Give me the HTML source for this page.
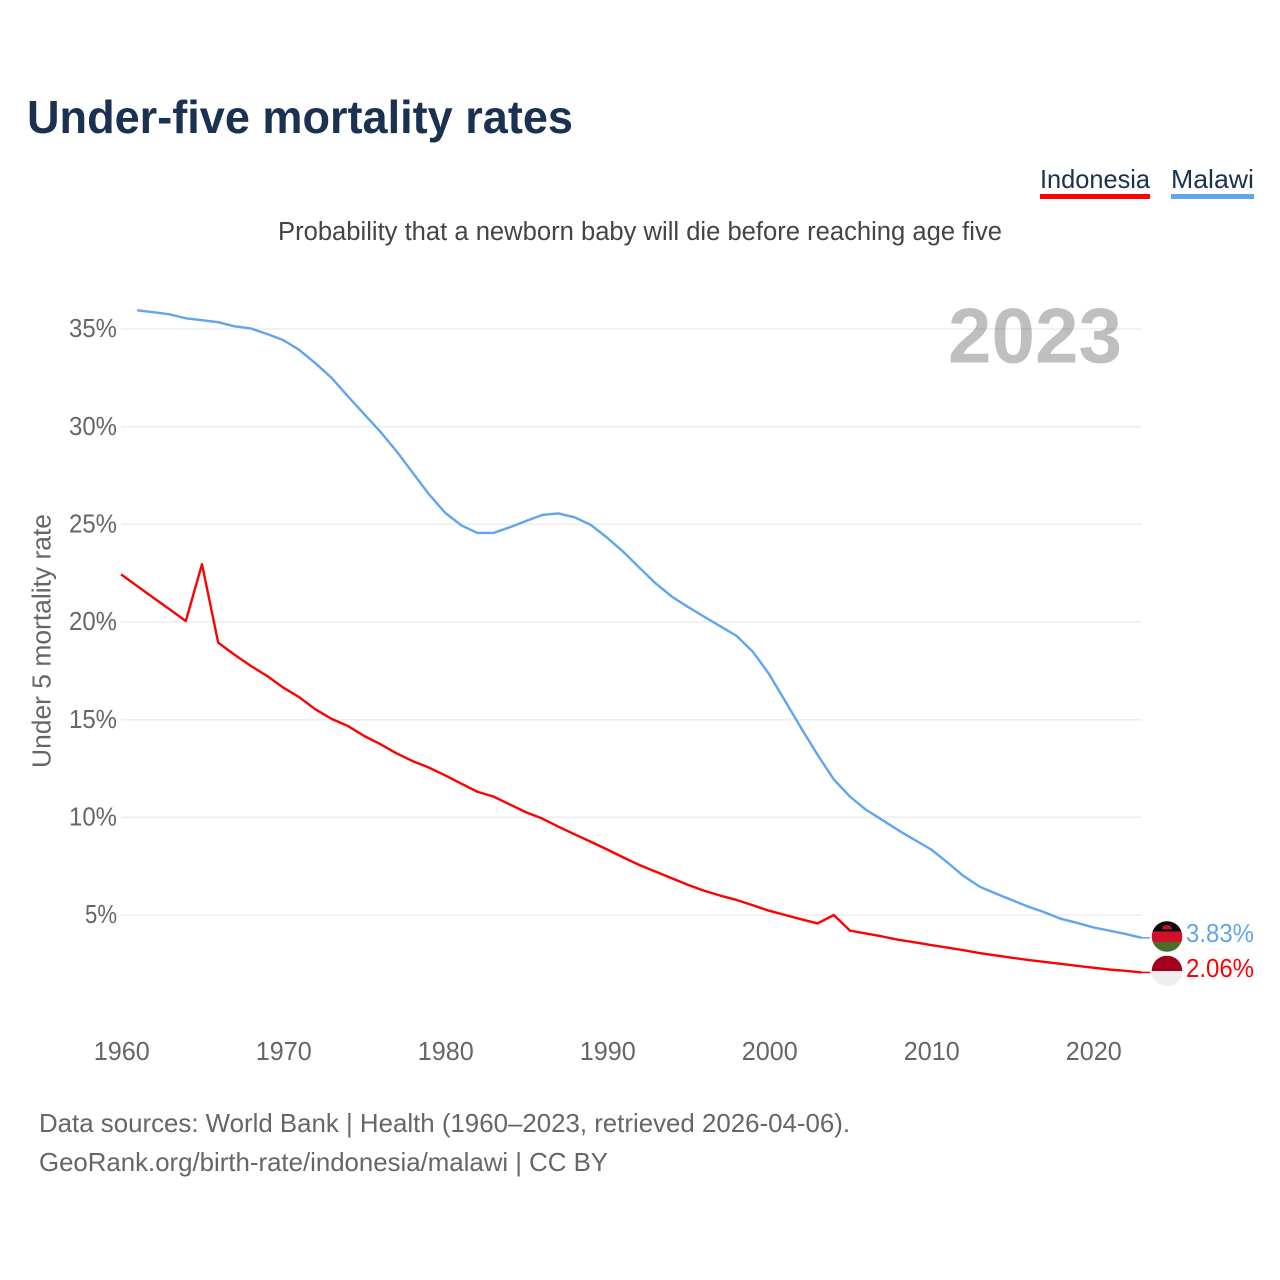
<!DOCTYPE html>
<html lang="en">
<head>
<meta charset="utf-8">
<title>Under-five mortality rates</title>
<style>
html,body{margin:0;padding:0;background:#fff;width:1280px;height:1280px;overflow:hidden}
svg{display:block}
text{font-family:"Liberation Sans",sans-serif}
</style>
</head>
<body>
<svg id="chart" xmlns="http://www.w3.org/2000/svg" width="1280" height="1280" viewBox="0 0 1280 1280">
  <rect width="1280" height="1280" fill="#ffffff"/>
  <text x="27" y="133" font-size="46" font-weight="700" fill="#1a3152" textLength="546" lengthAdjust="spacingAndGlyphs">Under-five mortality rates</text>
  <text x="278" y="240" font-size="25.5" fill="#444444" textLength="724" lengthAdjust="spacingAndGlyphs">Probability that a newborn baby will die before reaching age five</text>

  <g>
    <text x="1040" y="188" font-size="26" fill="#1a3152" textLength="110" lengthAdjust="spacingAndGlyphs">Indonesia</text>
    <rect x="1040" y="194" width="110" height="5" fill="#ff0000"/>
  </g>
  <g>
    <text x="1171" y="188" font-size="26" fill="#1a3152" textLength="83" lengthAdjust="spacingAndGlyphs">Malawi</text>
    <rect x="1171" y="194" width="83" height="5" fill="#60a5ee"/>
  </g>

  <g id="grid"></g>
  <g id="yticks"></g>
  <g id="xticks"></g>

  <text transform="translate(50.5,768) rotate(-90)" x="0" y="0" font-size="25.5" fill="#666666" textLength="254" lengthAdjust="spacingAndGlyphs">Under 5 mortality rate</text>
  <text x="948" y="362.5" font-size="78" font-weight="700" fill="#000000" fill-opacity="0.25" textLength="174" lengthAdjust="spacingAndGlyphs">2023</text>

  <polyline id="line-malawi" fill="none" stroke="#60a5ee" stroke-width="2.4" stroke-linejoin="round"/>
  <polyline id="line-indonesia" fill="none" stroke="#ff0000" stroke-width="2.4" stroke-linejoin="round"/>

  <defs>
    <clipPath id="clip-mw"><circle cx="1167" cy="936.5" r="15.3"/></clipPath>
    <clipPath id="clip-id"><circle cx="1167" cy="971" r="15.3"/></clipPath>
  </defs>
  <line id="conn-malawi" stroke="#60a5ee" stroke-width="1.5"/>
  <line id="conn-indonesia" stroke="#ff0000" stroke-width="1.5"/>
  <g clip-path="url(#clip-mw)">
    <rect x="1151" y="921" width="32" height="10.5" fill="#0d0d0d"/>
    <rect x="1151" y="931.5" width="32" height="10.5" fill="#ce1126"/>
    <rect x="1151" y="942" width="32" height="11" fill="#4a6f2a"/>
    <path d="M1162 929.2a5 4.2 0 0 1 10 0z" fill="#ce1126"/>
  </g>
  <g clip-path="url(#clip-id)">
    <rect x="1151" y="955" width="32" height="16" fill="#a3001e"/>
    <rect x="1151" y="971" width="32" height="16" fill="#eeeeee"/>
  </g>
  <text id="value-malawi" x="1186" y="942" font-size="26" fill="#60a5ee" textLength="68" lengthAdjust="spacingAndGlyphs"></text>
  <text id="value-indonesia" x="1186" y="977" font-size="26" fill="#ff0000" textLength="68" lengthAdjust="spacingAndGlyphs"></text>

  <text x="39" y="1132" font-size="26" fill="#666666" textLength="811" lengthAdjust="spacingAndGlyphs">Data sources: World Bank | Health (1960–2023, retrieved 2026-04-06).</text>
  <text x="39" y="1171" font-size="26" fill="#666666" textLength="569" lengthAdjust="spacingAndGlyphs">GeoRank.org/birth-rate/indonesia/malawi | CC BY</text>
</svg>
<script>
const yearsIndonesiaStart = 1960;
const yearsMalawiStart = 1961;
const xTickYears = [1960, 1970, 1980, 1990, 2000, 2010, 2020];
const yTickValues = [5, 10, 15, 20, 25, 30, 35];
const malawiValues = [
  35.96, 35.86, 35.75, 35.55, 35.45, 35.35, 35.14, 35.03, 34.75,
  34.44, 33.93, 33.25, 32.5, 31.56, 30.65, 29.75, 28.75, 27.65, 26.55,
  25.6, 24.95, 24.56, 24.56, 24.85, 25.17, 25.48, 25.56, 25.36, 24.97,
  24.32, 23.6, 22.78, 21.98, 21.3, 20.77, 20.27, 19.78, 19.29, 18.48,
  17.34, 15.95, 14.55, 13.2, 11.94, 11.06, 10.38, 9.86, 9.33, 8.84,
  8.36, 7.7, 7.0, 6.45, 6.1, 5.76, 5.43, 5.14, 4.81, 4.6,
  4.37, 4.2, 4.03, 3.83
];
const indonesiaValues = [
  22.44, 21.84, 21.24, 20.65, 20.05, 22.96, 18.94, 18.33, 17.76, 17.25,
  16.65, 16.15, 15.53, 15.04, 14.68, 14.17, 13.75, 13.28, 12.88, 12.55,
  12.15, 11.73, 11.31, 11.06, 10.66, 10.26, 9.94, 9.52, 9.13, 8.75,
  8.36, 7.95, 7.56, 7.22, 6.88, 6.54, 6.24, 5.99, 5.77, 5.5,
  5.22, 5.0, 4.78, 4.57, 5.0, 4.2, 4.05, 3.9, 3.73, 3.6,
  3.46, 3.33, 3.2, 3.05, 2.93, 2.81, 2.7, 2.6, 2.5, 2.4,
  2.3, 2.21, 2.14, 2.06
];
const malawiLatestLabel = "3.83%";
const indonesiaLatestLabel = "2.06%";

const NS = "http://www.w3.org/2000/svg";
function xScale(year) { return 121 + (year - 1960) * 16.2; }
function yScale(v) { return 915 - (v - 5) * 19.533; }

const gridLayer = document.getElementById("grid");
const yLayer = document.getElementById("yticks");
yTickValues.forEach(function (v) {
  const ln = document.createElementNS(NS, "line");
  
  
  ln.setAttribute("x1", 121);
  ln.setAttribute("x2", 1141.6);
  ln.setAttribute("y1", yScale(v));
  ln.setAttribute("y2", yScale(v));
  ln.setAttribute("stroke", "#eeeeee");
  ln.setAttribute("stroke-width", "1.6");
  gridLayer.appendChild(ln);

  const label = v + "%";
  const t = document.createElementNS(NS, "text");
  
  
  t.setAttribute("x", 117);
  t.setAttribute("y", yScale(v) + 8.2);
  t.setAttribute("text-anchor", "end");
  t.setAttribute("font-size", "26");
  t.setAttribute("fill", "#666666");
  t.setAttribute("textLength", label.length * 16);
  t.setAttribute("lengthAdjust", "spacingAndGlyphs");
  t.textContent = label;
  yLayer.appendChild(t);
});

const xLayer = document.getElementById("xticks");
xTickYears.forEach(function (yr) {
  const t = document.createElementNS(NS, "text");
  
  
  t.setAttribute("x", xScale(yr) + 0.8);
  t.setAttribute("y", 1060);
  t.setAttribute("text-anchor", "middle");
  t.setAttribute("font-size", "26");
  t.setAttribute("fill", "#666666");
  t.setAttribute("textLength", "56");
  t.setAttribute("lengthAdjust", "spacingAndGlyphs");
  t.textContent = yr;
  xLayer.appendChild(t);
});

function toPoints(values, startYear) {
  return values.map(function (v, i) {
    return xScale(startYear + i).toFixed(2) + "," + yScale(v).toFixed(2);
  }).join(" ");
}
document.getElementById("line-malawi").setAttribute("points", toPoints(malawiValues, yearsMalawiStart));
document.getElementById("line-indonesia").setAttribute("points", toPoints(indonesiaValues, yearsIndonesiaStart));

function setConnector(id, values, startYear) {
  const el = document.getElementById(id);
  const last = values[values.length - 1];
  const yr = startYear + values.length - 1;
  el.setAttribute("x1", xScale(yr));
  el.setAttribute("x2", xScale(yr) + 8.5);
  el.setAttribute("y1", yScale(last));
  el.setAttribute("y2", yScale(last));
}
setConnector("conn-malawi", malawiValues, yearsMalawiStart);
setConnector("conn-indonesia", indonesiaValues, yearsIndonesiaStart);
document.getElementById("value-malawi").textContent = malawiLatestLabel;
document.getElementById("value-indonesia").textContent = indonesiaLatestLabel;
</script>
</body>
</html>
